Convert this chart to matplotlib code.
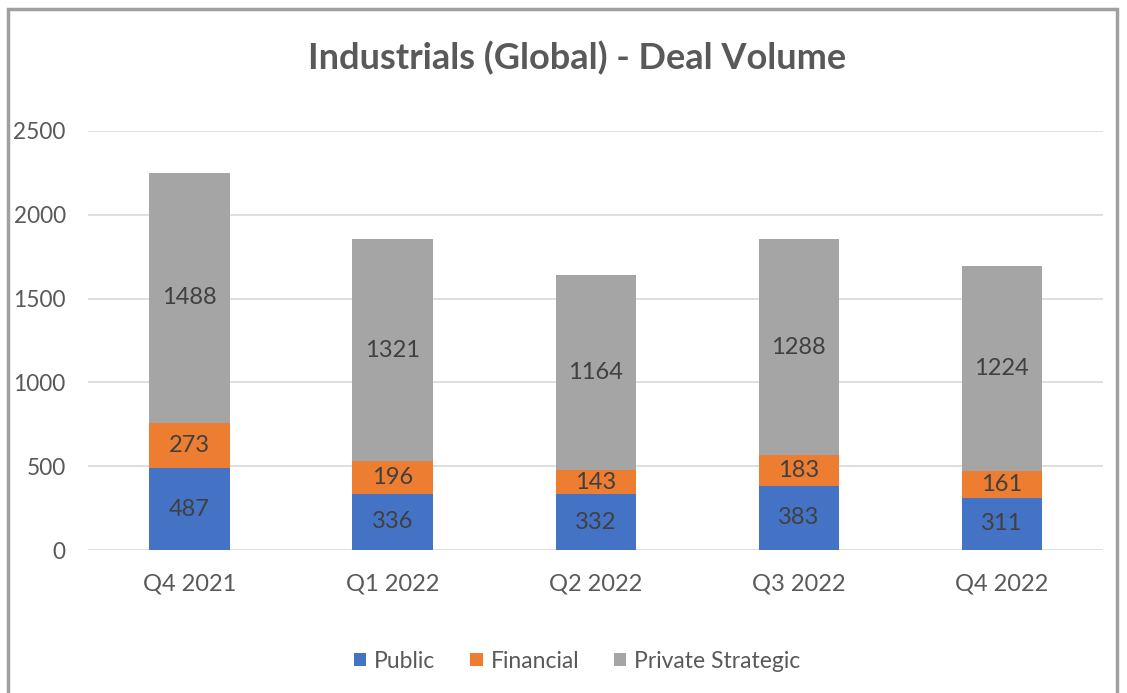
import numpy as np
import matplotlib.pyplot as plt
from matplotlib.patches import Rectangle

plt.rcParams['font.family'] = ['Lato', 'DejaVu Sans']

# Chart data
quarters = ['Q4 2021', 'Q1 2022', 'Q2 2022', 'Q3 2022', 'Q4 2022']
public = [487, 336, 332, 383, 311]
financial = [273, 196, 143, 183, 161]
private_strategic = [1488, 1321, 1164, 1288, 1224]

series = [('Public', public, '#4472C4'),
          ('Financial', financial, '#ED7D31'),
          ('Private Strategic', private_strategic, '#A5A5A5')]

fig = plt.figure(figsize=(11.27, 6.93), dpi=100)
ax = fig.add_axes([0.078, 0.2063, 0.901, 0.6047])

x = np.arange(len(quarters))
bottom = np.zeros(len(quarters))
for name, vals, color in series:
    vals = np.array(vals)
    ax.bar(x, vals, width=0.395, bottom=bottom, color=color, label=name, zorder=3)
    for xi, b, v in zip(x, bottom, vals):
        ax.text(xi, b + v / 2, str(v), ha='center', va='center',
                fontsize=17, color='#404040', zorder=4)
    bottom += vals

ax.set_xlim(-0.5, len(quarters) - 0.5)
ax.set_ylim(0, 2500)
ax.set_yticks(range(0, 2501, 500))
ax.set_xticks(x)
ax.set_xticklabels(quarters)
ax.tick_params(axis='both', length=0, labelcolor='#595959')
ax.tick_params(axis='x', pad=17, labelsize=17)
ax.tick_params(axis='y', pad=16, labelsize=16.3)
ax.grid(axis='y', color='#D9D9D9', linewidth=1.2, zorder=0)
for s in ax.spines.values():
    s.set_visible(False)

fig.text(0.512, 0.916, 'Industrials (Global) - Deal Volume', ha='center', va='center',
         fontsize=26, fontweight='bold', color='#595959')

fig.legend(loc='center', bbox_to_anchor=(0.512, 0.046), ncol=3, frameon=False,
           fontsize=16.5, labelcolor='#595959', handlelength=0.55, handleheight=0.55,
           handletextpad=0.35, columnspacing=1.5)

# Outer chart border
fig.patches.append(Rectangle((8 / 1127, -0.05), 1109 / 1127, 1.05 - 9 / 693,
                             transform=fig.transFigure, fill=False,
                             edgecolor='#A0A0A0', linewidth=2.5))

fig.savefig('out.png', dpi=100, facecolor='white')
